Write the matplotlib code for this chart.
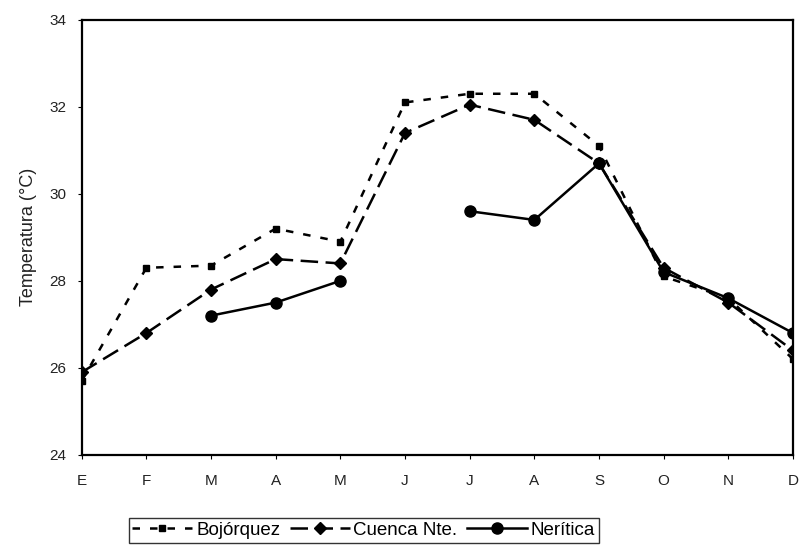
import numpy as np
import matplotlib
matplotlib.use('Agg')
import matplotlib.pyplot as plt

plt.rcParams['font.family'] = ['Liberation Sans', 'DejaVu Sans']

months = ["E", "F", "M", "A", "M", "J", "J", "A", "S", "O", "N", "D"]
bojorquez = [25.7, 28.3, 28.35, 29.2, 28.9, 32.1, 32.3, 32.3, 31.1, 28.1, 27.6, 26.2]
cuenca = [25.9, 26.8, 27.8, 28.5, 28.4, 31.4, 32.05, 31.7, 30.7, 28.3, 27.5, 26.4]
neritica = [np.nan, np.nan, 27.2, 27.5, 28.0, np.nan, 29.6, 29.4, 30.7, 28.2, 27.6, 26.8]

x = np.arange(len(months))

fig = plt.figure(figsize=(8.01, 5.5), dpi=100)
ax = fig.add_axes([0.102, 0.173, 0.888, 0.791])

ax.plot(x, bojorquez, color="black", linestyle=(0, (3, 4)), linewidth=1.8,
        marker="s", markersize=5, label="Bojórquez")
ax.plot(x, cuenca, color="black", linestyle=(0, (7, 3)), linewidth=1.8,
        marker="D", markersize=6, markerfacecolor="black", label="Cuenca Nte.")
ax.plot(x, neritica, color="black", linestyle="-", linewidth=1.8,
        marker="o", markersize=8, label="Nerítica")

ax.set_xlim(0, 11)
ax.set_ylim(24, 34)
ax.set_yticks([24, 26, 28, 30, 32, 34])
ax.set_xticks(x)
ax.set_xticklabels(months)
ax.tick_params(axis="both", labelsize=11, length=3, color="black", labelcolor="#222222")
ax.tick_params(axis="x", pad=11)
ax.tick_params(axis="y", pad=8)
for s in ax.spines.values():
    s.set_linewidth(1.6)

ax.set_ylabel("Temperatura (°C)", fontsize=13, labelpad=9, color="#222222")

fig.legend(loc="center", bbox_to_anchor=(0.454, 0.036), ncol=3, fontsize=13.5,
           frameon=True, fancybox=False, edgecolor="black", handlelength=3.2,
           handletextpad=0.2, columnspacing=0.5, borderpad=0.2)

fig.savefig("out.png", dpi=100)
